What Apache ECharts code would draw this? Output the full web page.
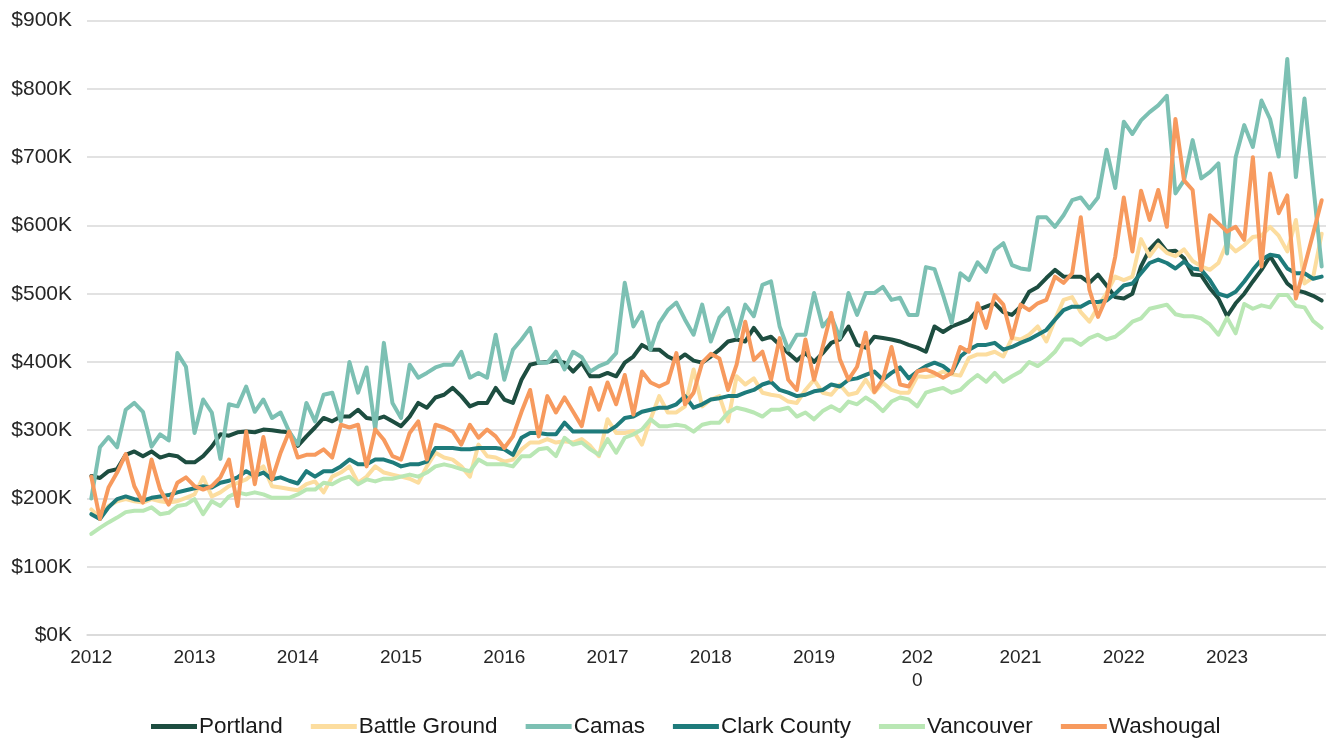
<!DOCTYPE html>
<html>
<head>
<meta charset="utf-8">
<script src="https://cdn.jsdelivr.net/npm/echarts@6/dist/echarts.min.js"></script>
<style>
html,body{margin:0;padding:0;background:#fff;}
#chart{width:1326px;height:738px;}
</style>
</head>
<body>
<div id="chart"></div>
<script>
// ---- data (monthly, Jan 2012 – Dec 2023), values in $K ----
const years = [2012,2013,2014,2015,2016,2017,2018,2019,2020,2021,2022,2023];
const months = ['01','02','03','04','05','06','07','08','09','10','11','12'];
const yearTickLabels = ['2012','2013','2014','2015','2016','2017','2018','2019','202\n0','2021','2022','2023'];
const seriesNames = ['Portland','Battle Ground','Camas','Clark County','Vancouver','Washougal'];

const portland = [
  233,230,240,243,264,269,262,269,260,264,262,253,253,262,276,294,292,297,298,297,301,300,298,297,
  277,291,304,318,313,320,320,330,318,316,320,313,306,320,340,333,348,352,362,350,335,340,340,362,
  345,340,374,396,399,400,402,399,386,399,379,379,384,379,399,408,425,418,418,408,402,411,402,399,
  408,418,430,433,430,450,433,437,425,413,402,413,400,413,428,433,452,425,421,437,435,433,430,425,
  421,415,452,444,452,457,462,476,481,486,473,469,481,503,510,523,535,525,525,525,516,528,512,495,
  493,500,540,565,578,562,563,552,528,527,508,493,467,486,500,518,535,555,535,515,505,502,497,490
];
const battleGround = [
  184,172,189,196,199,196,194,199,196,194,196,201,206,231,203,209,218,223,228,238,247,218,216,214,
  212,221,225,209,232,238,247,223,232,247,238,235,232,229,223,247,267,260,257,247,232,279,262,260,
  254,257,272,282,282,287,282,284,282,287,277,262,316,296,296,299,279,316,350,326,326,335,389,335,
  345,350,313,379,367,376,355,352,350,342,340,359,374,355,352,367,352,355,374,355,369,359,355,355,
  379,378,380,386,382,380,406,411,411,415,408,435,433,440,452,430,462,491,495,473,459,481,501,525,
  520,525,580,555,572,560,555,565,548,540,535,545,575,562,571,583,585,598,585,562,608,515,524,588
];
const camas = [
  200,275,290,275,330,340,327,276,294,285,413,393,296,345,326,258,338,335,364,327,345,318,326,298,
  279,340,313,352,355,313,400,355,392,301,428,340,318,396,377,384,392,396,396,415,377,384,377,440,
  374,418,433,450,399,399,415,389,415,407,386,394,399,413,516,452,473,418,457,476,487,462,440,484,
  430,465,479,437,484,467,513,518,452,418,440,440,501,452,467,435,501,469,501,501,510,491,494,469,
  469,539,536,498,457,530,520,546,532,564,574,542,537,535,612,612,598,615,637,641,625,641,711,655,
  752,734,754,766,776,790,647,666,725,669,678,691,559,700,747,715,783,756,701,844,671,786,661,540
];
const clarkCounty = [
  177,170,187,199,203,199,197,201,203,205,209,212,215,218,216,223,226,231,240,233,238,228,231,226,
  222,240,232,240,240,247,257,250,250,257,257,253,247,250,250,254,274,274,274,272,272,274,274,274,
  272,264,289,296,296,294,294,311,298,298,298,298,298,306,318,320,327,330,333,333,338,350,333,338,
  345,347,350,350,355,359,367,371,359,355,350,352,357,359,367,364,374,376,381,386,374,384,392,376,
  386,394,399,394,384,408,418,425,425,428,418,422,428,433,440,447,462,476,481,481,488,488,490,500,
  512,515,530,545,550,545,537,547,537,535,520,500,496,503,518,535,550,557,555,537,530,530,522,525
];
const vancouver = [
  148,157,165,172,180,182,182,187,177,179,189,191,199,177,196,189,203,209,206,209,206,201,201,201,
  206,213,213,223,221,228,232,221,228,225,229,229,232,235,232,238,247,250,247,243,240,257,250,250,
  250,247,262,262,272,274,262,289,279,282,272,264,287,267,289,294,301,316,306,306,308,306,298,308,
  311,311,326,333,330,326,320,330,330,333,320,326,316,328,335,328,342,338,348,340,328,342,348,345,
  335,355,359,362,355,359,371,381,371,384,371,379,386,400,394,403,415,433,433,425,435,440,433,437,
  447,459,464,478,481,484,470,467,467,464,455,440,465,442,485,478,483,480,498,498,482,480,460,450
];
const washougal = [
  232,170,216,238,265,218,194,257,213,191,223,231,218,213,218,231,257,189,298,221,290,228,267,298,
  260,264,264,272,260,308,304,308,247,301,286,262,257,296,313,257,308,304,298,279,308,289,301,291,
  274,291,327,359,291,350,326,348,327,306,362,330,370,338,381,323,386,370,364,370,413,338,355,399,
  412,405,359,396,459,403,415,374,435,374,359,433,374,422,472,404,374,393,443,356,374,422,367,364,
  386,389,384,377,384,422,415,486,450,498,484,435,484,476,486,491,525,516,530,612,506,466,495,554,
  641,562,651,608,652,598,756,666,652,535,615,603,591,598,579,700,540,676,618,644,493,540,588,637
];

const colors = ['#1d4d40','#fcdd9f','#7cc0b3','#1e7b7b','#b9e7b4','#f79a5e'];
const seriesData = [portland, battleGround, camas, clarkCounty, vancouver, washougal];

const categories = [];
years.forEach(y => months.forEach(m => categories.push(y + '-' + m)));

const chart = echarts.init(document.getElementById('chart'), null, {renderer:'canvas'});
const option = {
  animation: false,
  backgroundColor: '#ffffff',
  color: colors,
  grid: {left: 87, right: 0, top: 20.7, bottom: 103, containLabel: false},
  legend: {
    data: seriesNames,
    left: 146,
    top: 710,
    icon: 'rect',
    itemWidth: 46,
    itemHeight: 5,
    itemGap: 28,
    textStyle: {fontFamily: 'Liberation Sans, Arial, sans-serif', fontSize: 22.5, color: '#1a1a1a', padding: [0,0,0,-3]}
  },
  xAxis: {
    type: 'category',
    data: categories,
    boundaryGap: true,
    axisTick: {show: false},
    axisLine: {show: true, lineStyle: {color: '#d9d9d9', width: 1.5}},
    axisLabel: {
      interval: 11,
      margin: 11,
      fontFamily: 'Liberation Sans, Arial, sans-serif',
      fontSize: 19,
      lineHeight: 23,
      color: '#262626',
      formatter: function (val, idx) { return yearTickLabels[Math.floor(idx / 12)]; }
    },
    splitLine: {show: false}
  },
  yAxis: {
    type: 'value',
    min: 0,
    max: 900,
    interval: 100,
    axisLine: {show: false},
    axisTick: {show: false},
    axisLabel: {
      margin: 15,
      fontFamily: 'Liberation Sans, Arial, sans-serif',
      fontSize: 21,
      color: '#262626',
      formatter: function (v) { return '$' + v + 'K'; }
    },
    splitLine: {lineStyle: {color: '#d9d9d9', width: 1.5}}
  },
  series: seriesNames.map((name, i) => ({
    name: name,
    type: 'line',
    data: seriesData[i],
    symbol: 'none',
    smooth: false,
    lineStyle: {width: 4, color: colors[i], join: 'round', cap: 'round'},
    itemStyle: {color: colors[i]},
    emphasis: {disabled: true}
  }))
};
chart.setOption(option);
</script>
</body>
</html>
